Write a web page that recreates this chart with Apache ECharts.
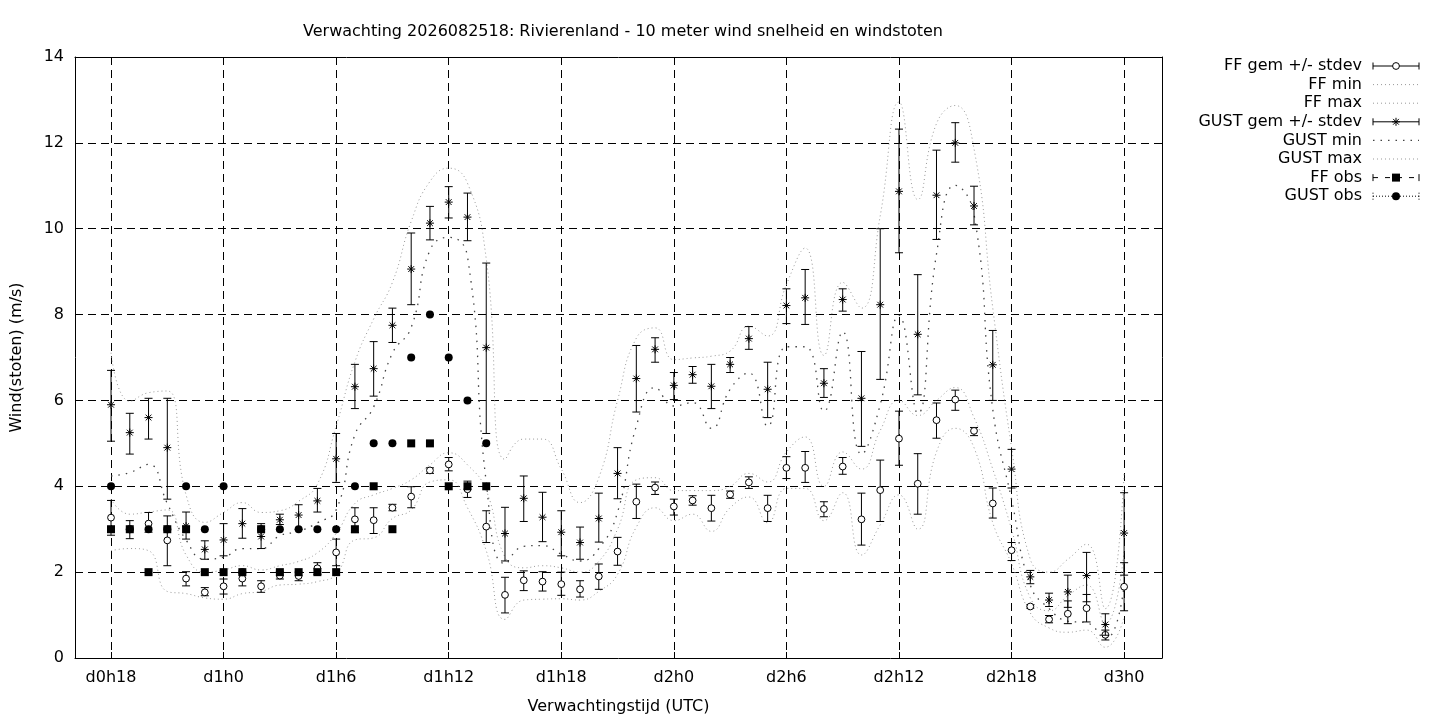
<!DOCTYPE html>
<html>
<head>
<meta charset="utf-8">
<title>Verwachting Rivierenland wind</title>
<script src="https://cdn.jsdelivr.net/npm/echarts@6/dist/echarts.min.js"></script>
<style>
html, body { margin: 0; padding: 0; background: #fff; }
#chart { width: 1440px; height: 720px; }
</style>
</head>
<body>
<div id="chart"></div>
<script>
// uren vanaf d0h18, een waarde per uur
var tickHours = [0, 6, 12, 18, 24, 30, 36, 42, 48, 54];
var tickLabels = ['d0h18', 'd1h0', 'd1h6', 'd1h12', 'd1h18', 'd2h0', 'd2h6', 'd2h12', 'd2h18', 'd3h0'];

var ffMean = [3.27,3.00,3.13,2.74,1.85,1.53,1.67,1.85,1.67,1.92, 1.91,2.09,2.46,3.23,3.21,3.50,3.76,4.37,4.51,3.93,
              3.06,1.47,1.81,1.78,1.72,1.60,1.90,2.48,3.64,3.97, 3.53,3.67,3.49,3.81,4.09,3.49,4.43,4.43,3.47,4.46,
              3.23,3.91,5.11,4.06,5.54,6.02,5.29,3.60,2.51,1.20, 0.90,1.03,1.16,0.54,1.66];
var ffLow  = [2.86,2.78,2.93,2.15,1.68,1.45,1.49,1.68,1.53,1.84, 1.80,1.95,2.15,2.92,2.90,3.43,3.50,4.30,4.36,3.74,
              2.69,1.05,1.57,1.56,1.46,1.42,1.60,2.16,3.25,3.81, 3.33,3.56,3.19,3.72,3.95,3.18,4.18,4.09,3.29,4.28,
              2.63,3.18,4.49,3.35,5.12,5.77,5.18,3.26,2.27,1.16, 0.82,0.80,0.84,0.42,1.10];
var ffHigh = [3.67,3.20,3.39,3.31,2.01,1.64,1.84,1.99,1.80,2.02, 2.00,2.22,2.77,3.50,3.50,3.58,3.99,4.43,4.67,4.12,
              3.43,1.88,2.03,2.01,2.00,1.80,2.19,2.81,4.05,4.10, 3.70,3.78,3.79,3.89,4.22,3.79,4.69,4.81,3.64,4.67,
              3.84,4.61,5.75,4.76,5.94,6.24,5.37,3.96,2.69,1.24, 0.99,1.33,1.48,0.65,2.22];
var ffMin  = [2.50,2.55,2.50,1.55,1.50,1.40,1.37,1.50,1.55,1.70, 1.72,1.78,1.95,2.75,2.80,3.25,3.45,4.10,4.15,3.50,
              2.50,0.90,1.35,1.37,1.38,1.35,1.55,1.95,3.05,3.50, 3.20,3.35,2.95,3.50,3.75,3.15,3.95,3.95,3.20,3.85,
              2.40,3.10,3.80,3.00,4.80,5.35,4.90,3.15,2.20,1.05, 0.70,0.60,0.65,0.25,0.95];
var ffMax  = [3.70,3.35,3.40,3.45,2.40,2.00,2.05,2.15,2.05,2.15, 2.25,2.45,2.90,3.60,3.80,3.95,4.15,4.50,4.78,4.50,
              3.90,2.35,2.10,2.15,2.10,2.00,2.25,3.00,4.15,4.20, 3.90,3.90,3.90,4.00,4.30,4.10,4.80,5.15,4.00,4.80,
              4.40,5.30,6.00,5.65,6.00,6.30,5.60,4.40,3.00,1.40, 1.10,1.45,1.70,0.80,2.50];

var gustMean = [5.90,5.25,5.60,4.90,3.07,2.53,2.75,3.13,2.83,3.22, 3.33,3.66,4.64,6.32,6.74,7.75,9.06,10.13,10.62,10.27,
                7.23,2.90,3.72,3.28,2.93,2.69,3.25,4.30,6.51,7.19, 6.35,6.60,6.33,6.84,7.44,6.26,8.21,8.39,6.40,8.35,
                6.05,8.23,10.87,7.54,10.78,12.00,10.53,6.83,4.40,1.89, 1.35,1.54,1.92,0.78,2.91];
var gustLow  = [5.05,4.75,5.10,3.70,2.77,2.30,2.38,2.79,2.55,3.11, 3.00,3.40,4.09,5.81,6.10,7.35,8.23,9.74,10.25,9.72,
                5.23,2.26,3.18,2.71,2.38,2.30,2.70,3.71,5.73,6.89, 6.02,6.40,5.81,6.65,7.19,5.60,7.79,7.77,6.07,8.08,
                4.93,6.49,9.44,6.13,9.75,11.55,10.09,6.00,3.96,1.73, 1.20,1.18,1.31,0.53,1.93];
var gustHigh = [6.70,5.70,6.05,6.05,3.40,2.73,3.13,3.48,3.13,3.35, 3.57,3.95,5.23,6.84,7.37,8.15,9.90,10.52,10.98,10.83,
                9.20,3.51,4.24,3.86,3.43,3.05,3.84,4.90,7.28,7.46, 6.65,6.79,6.84,7.00,7.72,6.89,8.60,9.05,6.74,8.60,
                7.14,10.00,12.32,8.93,11.83,12.47,10.99,7.63,4.86,2.04, 1.51,1.93,2.46,1.03,3.85];
var gustMin  = [4.24,4.32,4.51,3.60,2.75,2.30,2.35,2.55,2.55,2.85, 2.95,3.15,3.45,5.20,5.85,7.10,7.70,9.50,9.80,9.35,
                4.10,2.20,2.60,2.62,2.42,2.26,2.55,3.40,5.40,6.30, 5.87,5.95,5.35,6.26,6.64,5.40,7.25,7.25,5.75,7.60,
                4.75,5.90,7.98,5.70,9.41,11.01,10.34,5.79,3.70,1.70, 1.15,0.86,0.82,0.44,1.70];
var gustMax  = [7.11,5.98,6.18,6.22,3.80,3.16,3.39,3.62,3.39,3.43, 3.65,4.05,5.40,6.90,7.90,8.75,10.17,11.10,11.41,11.06,
                9.30,4.63,5.10,5.10,4.40,3.62,4.20,6.00,7.45,7.69, 6.95,6.99,7.03,7.15,7.73,7.50,8.70,9.55,7.05,8.75,
                8.15,10.30,12.95,10.68,12.45,12.87,11.86,8.15,4.90,2.30, 2.00,2.30,2.65,1.15,4.30];

// waarnemingen (alleen de eerste uren)
var ffObs   = [3,3,2,3,3,2,2,2,3,2, 2,2,2,3,4,3,5,5,4,4, 4];
var gustObs = [4,3,3,3,4,3,4,2,3,3, 3,3,3,4,5,5,7,8,7,6, 5];

var legendNames = ['FF gem +/- stdev', 'FF min', 'FF max', 'GUST gem +/- stdev',
                   'GUST min', 'GUST max', 'FF obs', 'GUST obs'];

var FONT = 'DejaVu Sans';
var FS = 16;
var lightDots = { color: '#999', width: 1, type: [1, 3] };
var darkDots = { color: '#444', width: 1.3, type: [1.5, 6] };

function pairs(arr) {
	return arr.map(function (v, i) { return [i, v]; });
}
function triples(mean, low, high) {
	return mean.map(function (v, i) { return [i, v, low[i], high[i]]; });
}

function starLines(cx, cy, r) {
	var d = r * 0.72, st = { stroke: '#000', lineWidth: 1 };
	return [
		{ type: 'line', shape: { x1: cx - r, y1: cy, x2: cx + r, y2: cy }, style: st },
		{ type: 'line', shape: { x1: cx, y1: cy - r, x2: cx, y2: cy + r }, style: st },
		{ type: 'line', shape: { x1: cx - d, y1: cy - d, x2: cx + d, y2: cy + d }, style: st },
		{ type: 'line', shape: { x1: cx - d, y1: cy + d, x2: cx + d, y2: cy - d }, style: st }
	];
}

function errorBar(marker) {
	return function (params, api) {
		var pm = api.coord([api.value(0), api.value(1)]);
		var pl = api.coord([api.value(0), api.value(2)]);
		var ph = api.coord([api.value(0), api.value(3)]);
		var st = { stroke: '#000', lineWidth: 1 }, c = 4;
		var ch = [
			{ type: 'line', shape: { x1: pl[0], y1: pl[1], x2: ph[0], y2: ph[1] }, style: st },
			{ type: 'line', shape: { x1: pl[0] - c, y1: pl[1], x2: pl[0] + c, y2: pl[1] }, style: st },
			{ type: 'line', shape: { x1: ph[0] - c, y1: ph[1], x2: ph[0] + c, y2: ph[1] }, style: st }
		];
		if (marker == 'circle')
			ch.push({ type: 'circle', shape: { cx: pm[0], cy: pm[1], r: 3.4 }, style: { fill: '#fff', stroke: '#000', lineWidth: 1 } });
		else
			ch = ch.concat(starLines(pm[0], pm[1], 4));
		return { type: 'group', children: ch };
	};
}

function envLine(name, data, ls) {
	return { name: name, type: 'line', data: pairs(data), smooth: 0.5, showSymbol: false,
		lineStyle: ls, silent: true, animation: false, z: 3 };
}

// legenda rechts van de grafiek
function buildLegend() {
	var els = [], x1 = 1373, x2 = 1419, xm = 1396, y0 = 66, dy = 18.6;
	var blk = { stroke: '#000', lineWidth: 1 };
	legendNames.forEach(function (name, i) {
		var y = y0 + i * dy;
		els.push({ type: 'text', x: 1362, y: y, style: { text: name, fill: '#000', font: FS + 'px "' + FONT + '"',
			textAlign: 'right', textVerticalAlign: 'middle' } });
		var ln = function (st, dash) {
			els.push({ type: 'line', shape: { x1: x1, y1: y, x2: x2, y2: y },
				style: { stroke: st.color || st.stroke, lineWidth: st.width || st.lineWidth, lineDash: dash } });
		};
		var caps = function (dash) {
			els.push({ type: 'line', shape: { x1: x1, y1: y - 3.5, x2: x1, y2: y + 3.5 }, style: { stroke: '#000', lineWidth: 1, lineDash: dash } });
			els.push({ type: 'line', shape: { x1: x2, y1: y - 3.5, x2: x2, y2: y + 3.5 }, style: { stroke: '#000', lineWidth: 1, lineDash: dash } });
		};
		if (i == 0 || i == 3) {
			ln(blk, null); caps(null);
			if (i == 0)
				els.push({ type: 'circle', shape: { cx: xm, cy: y, r: 3.4 }, style: { fill: '#fff', stroke: '#000', lineWidth: 1 } });
			else
				els = els.concat(starLines(xm, y, 4));
		} else if (i == 4) {
			ln(darkDots, darkDots.type);
		} else if (i == 6) {
			ln(blk, [5, 7]); caps(null);
			els.push({ type: 'rect', shape: { x: xm - 4, y: y - 4, width: 8, height: 8 }, style: { fill: '#000' } });
		} else if (i == 7) {
			ln({ color: '#000', width: 1 }, [1, 2]); caps([1, 2]);
			els.push({ type: 'circle', shape: { cx: xm, cy: y, r: 4 }, style: { fill: '#000' } });
		} else {
			ln(lightDots, lightDots.type);
		}
	});
	return els;
}

var chart = echarts.init(document.getElementById('chart'));
var axisText = { color: '#000', fontFamily: FONT, fontSize: FS };
var border = { show: true, onZero: false, lineStyle: { color: '#000', width: 1 } };

var option = {
	animation: false,
	backgroundColor: '#fff',
	title: {
		text: 'Verwachting 2026082518: Rivierenland - 10 meter wind snelheid en windstoten',
		left: 618, top: 19, textAlign: 'center',
		textStyle: { color: '#000', fontFamily: FONT, fontSize: FS, fontWeight: 'normal' }
	},
	grid: { left: 75, right: 278, top: 57, bottom: 61 },
	xAxis: [{
		type: 'value', min: -1.92, max: 56.02,
		name: 'Verwachtingstijd (UTC)', nameLocation: 'middle', nameGap: 41,
		nameTextStyle: axisText,
		axisLine: border,
		axisTick: { inside: true, length: 6, customValues: tickHours, lineStyle: { color: '#000' } },
		axisLabel: { customValues: tickHours, margin: 12, color: '#000', fontFamily: FONT, fontSize: FS,
			formatter: function (v) { var k = tickHours.indexOf(Math.round(v)); return k < 0 ? '' : tickLabels[k]; } },
		splitLine: { show: true, lineStyle: { color: '#000', width: 1, type: [8, 5] } }
	}, {
		type: 'value', position: 'top', min: -1.92, max: 56.02,
		axisLine: border,
		axisTick: { inside: true, length: 6, customValues: tickHours, lineStyle: { color: '#000' } },
		axisLabel: { show: false }, splitLine: { show: false }
	}],
	yAxis: [{
		type: 'value', min: 0, max: 14, interval: 2,
		name: 'Wind(stoten) (m/s)', nameLocation: 'middle', nameGap: 50,
		nameTextStyle: axisText,
		axisLine: border,
		axisTick: { show: true, inside: true, length: 6, lineStyle: { color: '#000' } },
		axisLabel: { margin: 11, color: '#000', fontFamily: FONT, fontSize: FS },
		splitLine: { show: true, lineStyle: { color: '#000', width: 1, type: [8, 5] } }
	}, {
		type: 'value', position: 'right', min: 0, max: 14, interval: 2,
		axisLine: border,
		axisTick: { show: true, inside: true, length: 6, lineStyle: { color: '#000' } },
		axisLabel: { show: false }, splitLine: { show: false }
	}],
	graphic: buildLegend(),
	series: [
		{ name: legendNames[0], type: 'custom', renderItem: errorBar('circle'),
		  data: triples(ffMean, ffLow, ffHigh), encode: { x: 0, y: [1, 2, 3] }, z: 4 },
		envLine(legendNames[1], ffMin, lightDots),
		envLine(legendNames[2], ffMax, lightDots),
		{ name: legendNames[3], type: 'custom', renderItem: errorBar('star'),
		  data: triples(gustMean, gustLow, gustHigh), encode: { x: 0, y: [1, 2, 3] }, z: 4 },
		envLine(legendNames[4], gustMin, darkDots),
		envLine(legendNames[5], gustMax, lightDots),
		{ name: legendNames[6], type: 'scatter', data: pairs(ffObs), symbol: 'rect', symbolSize: 8,
		  itemStyle: { color: '#000', opacity: 1 }, z: 5 },
		{ name: legendNames[7], type: 'scatter', data: pairs(gustObs), symbol: 'circle', symbolSize: 8,
		  itemStyle: { color: '#000', opacity: 1 }, z: 6 }
	]
};
chart.setOption(option);
</script>
</body>
</html>
